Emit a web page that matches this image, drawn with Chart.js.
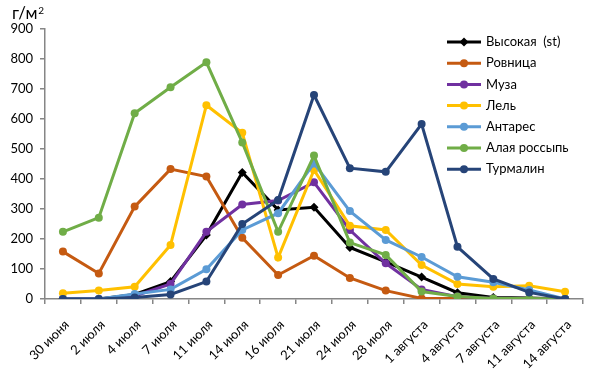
<!DOCTYPE html>
<html>
<head>
<meta charset="utf-8">
<script src="https://cdn.jsdelivr.net/npm/chart.js@4/dist/chart.umd.min.js"></script>
<style>
  html, body { margin: 0; padding: 0; background: #fff; }
  #wrap { width: 601px; height: 389px; position: relative; }
</style>
</head>
<body>
<div id="wrap"><canvas id="chart"></canvas></div>
<script>
const FONT = 'Lato, "Open Sans", sans-serif';
const AXIS_COLOR = '#868686';

const dates = [
  '30 июня', '2 июля', '4 июля', '7 июля', '11 июля', '14 июля', '16 июля',
  '21 июля', '24 июля', '28 июля', '1 августа', '4 августа', '7 августа',
  '11 августа', '14 августа'
];

const yTicks = [0, 100, 200, 300, 400, 500, 600, 700, 800, 900];

const vysokaya = [0, 0, 15, 58, 213, 422, 297, 306, 172, 124, 73, 21, 5, 3, 0];
const rovnitsa = [158, 85, 308, 433, 408, 204, 80, 144, 70, 28, 2, 2, 0, 0, 0];
const muza = [0, 0, 10, 50, 224, 315, 328, 389, 230, 119, 32, 8, 2, 0, 0];
const lel = [19, 28, 41, 180, 646, 554, 138, 430, 244, 230, 113, 50, 41, 44, 24];
const antares = [0, 0, 17, 32, 99, 230, 286, 452, 293, 197, 140, 74, 56, 30, 0];
const alayaRossyp = [224, 271, 619, 706, 789, 522, 224, 478, 188, 147, 25, 8, 2, 2, 0];
const turmalin = [0, 0, 5, 15, 58, 250, 330, 680, 436, 424, 583, 174, 67, 22, 0];

const series = [
  { name: 'Высокая  (st)', values: vysokaya, color: '#000000', style: 'rectRot' },
  { name: 'Ровница', values: rovnitsa, color: '#C55A11', style: 'circle' },
  { name: 'Муза', values: muza, color: '#7030A0', style: 'circle' },
  { name: 'Лель', values: lel, color: '#FFC000', style: 'circle' },
  { name: 'Антарес', values: antares, color: '#5B9BD5', style: 'circle' },
  { name: 'Алая россыпь', values: alayaRossyp, color: '#70AD47', style: 'circle' },
  { name: 'Турмалин', values: turmalin, color: '#264478', style: 'circle' }
];

// legend + unit label drawn by hand, Excel style
const extras = {
  id: 'extras',
  afterDraw(chart) {
    const ctx = chart.ctx;
    ctx.save();
    ctx.fillStyle = '#000';
    ctx.textAlign = 'left';
    ctx.textBaseline = 'alphabetic';
    ctx.font = '17px ' + FONT;
    ctx.fillText('г/м', 12, 18.5);
    const w = ctx.measureText('г/м').width;
    ctx.font = '10px ' + FONT;
    ctx.fillText('2', 12 + w + 1, 13.5);

    ctx.font = '13px ' + FONT;
    ctx.textBaseline = 'middle';
    chart.data.datasets.forEach((ds, i) => {
      const y = 42 + i * 21.2;
      ctx.strokeStyle = ds.borderColor;
      ctx.lineWidth = 3;
      ctx.beginPath();
      ctx.moveTo(447, y);
      ctx.lineTo(481, y);
      ctx.stroke();
      ctx.fillStyle = ds.borderColor;
      Chart.helpers.drawPoint(ctx, {
        pointStyle: ds.pointStyle,
        radius: ds.pointRadius,
        rotation: 0,
        borderWidth: 0
      }, 464, y);
      ctx.fillStyle = '#000';
      ctx.fillText(ds.label, 486, y);
    });
    ctx.restore();
  }
};

new Chart(document.getElementById('chart'), {
  type: 'line',
  data: {
    labels: dates,
    datasets: series.map((s, i) => ({
      label: s.name,
      data: s.values,
      borderColor: s.color,
      backgroundColor: s.color,
      borderWidth: 3,
      pointStyle: s.style,
      pointRadius: s.style === 'rectRot' ? 4.5 : 4,
      pointBorderWidth: 0,
      tension: 0,
      fill: false,
      order: series.length - i
    }))
  },
  options: {
    responsive: true,
    maintainAspectRatio: false,
    animation: false,
    devicePixelRatio: 1,
    layout: { padding: { left: 0, top: 29, right: 18, bottom: 0 } },
    plugins: {
      legend: { display: false },
      tooltip: { enabled: false }
    },
    scales: {
      x: {
        type: 'category',
        offset: true,
        afterFit: (axis) => { axis.height = 90; },
        grid: {
          offset: true,
          drawOnChartArea: false,
          drawTicks: true,
          tickLength: 5,
          color: AXIS_COLOR,
          lineWidth: 1.5
        },
        border: { color: AXIS_COLOR, width: 1.5 },
        ticks: {
          autoSkip: false,
          minRotation: 45,
          maxRotation: 45,
          padding: 13,
          labelOffset: 4,
          color: '#000',
          font: { family: FONT, size: 13 }
        }
      },
      y: {
        min: 0,
        max: 900,
        afterFit: (axis) => { axis.width = 45; },
        afterBuildTicks: (axis) => { axis.ticks = yTicks.map(v => ({ value: v })); },
        grid: {
          drawOnChartArea: false,
          drawTicks: true,
          tickLength: 5,
          color: AXIS_COLOR,
          lineWidth: 1.5
        },
        border: { color: AXIS_COLOR, width: 1.5 },
        ticks: {
          padding: 7,
          color: '#000',
          font: { family: FONT, size: 13 }
        }
      }
    }
  },
  plugins: [extras]
});
</script>
</body>
</html>
